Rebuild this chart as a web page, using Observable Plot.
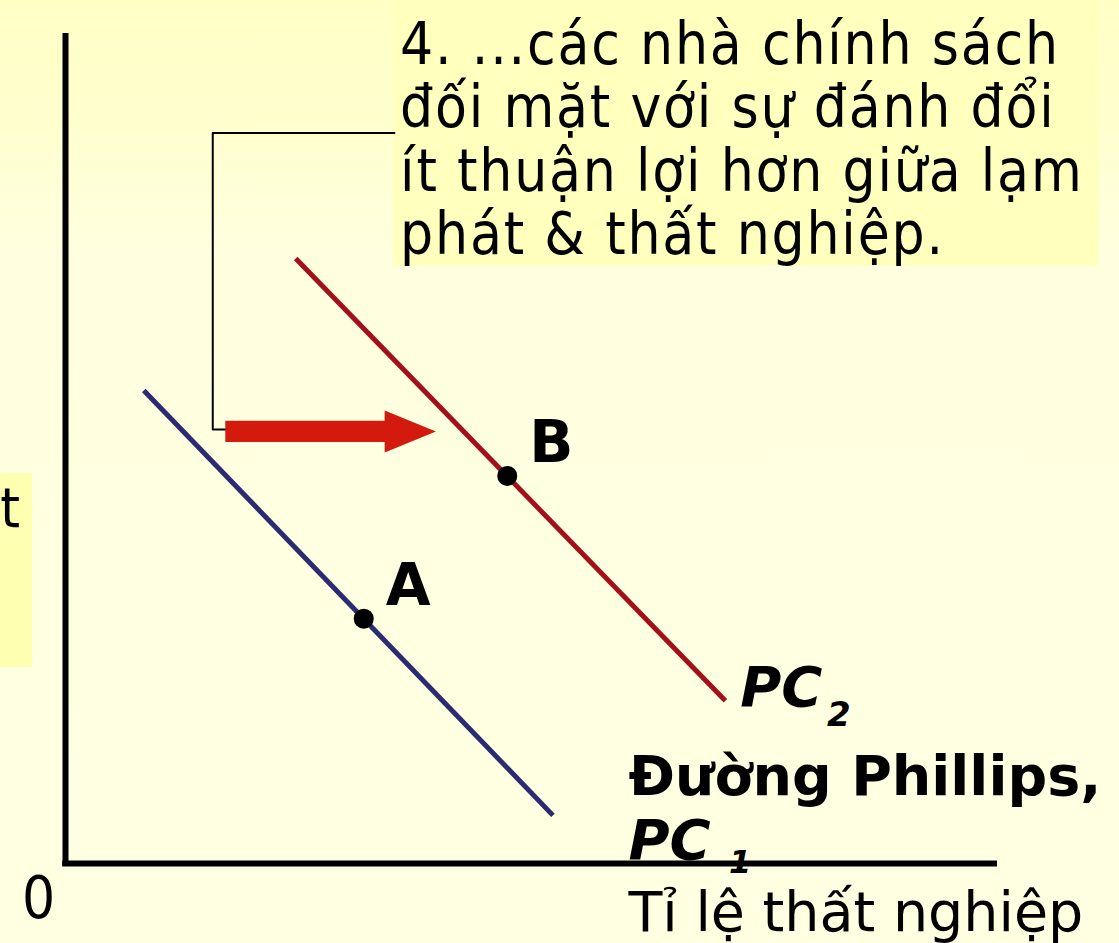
<!DOCTYPE html>
<html>
<head>
<meta charset="utf-8">
<script src="https://cdn.jsdelivr.net/npm/d3@7"></script>
<script src="https://cdn.jsdelivr.net/npm/@observablehq/plot@0.6"></script>
<style>
  html, body { margin: 0; padding: 0; }
  body {
    width: 1119px; height: 943px; overflow: hidden;
    background: linear-gradient(to bottom, #FFFFC6 0px, #FFFFCE 120px, #FFFFE0 260px, #FFFFE2 943px);
  }
  #chart svg { display: block; background: transparent !important; }
</style>
</head>
<body>
<div id="chart"></div>
<script>
// Phillips curves: unemployment rate (x) vs inflation rate (y), arbitrary units
const curveNames = ["PC1", "PC2"];
const curveUnemployment = [[0.84, 5.23], [2.47, 7.08]];
const curveInflation = [[5.70, 0.58], [7.29, 1.96]];

// Equilibrium points on each curve
const pointNames = ["A", "B"];
const pointUnemployment = [3.20, 4.74];
const pointInflation = [2.95, 4.67];

// Rightward shift of the curve
const shiftFrom = 1.72;
const shiftTo = 3.98;
const shiftInflation = 5.20;

const noteText = "4. ...các nhà chính sách\nđối mặt với sự đánh đổi\nít thuận lợi hơn giữa lạm\nphát & thất nghiệp.";
const curveTitle = "Đường Phillips,";
const xTitle = "Tỉ lệ thất nghiệp";
const originLabel = "0";

const curves = curveNames.map((name, i) => curveUnemployment[i].map((u, j) => ({name, u, p: curveInflation[i][j]}))).flat();
const points = pointNames.map((name, i) => ({name, u: pointUnemployment[i], p: pointInflation[i]}));

// Arrow drawn as a filled outline: shaft, then a triangular head
const shaftHalf = 0.127, headHalf = 0.253, headLen = 0.55;
const headBase = shiftTo - headLen;
const arrow = [
  {u: shiftFrom, lo: shiftInflation - shaftHalf, hi: shiftInflation + shaftHalf},
  {u: headBase, lo: shiftInflation - shaftHalf, hi: shiftInflation + shaftHalf},
  {u: headBase, lo: shiftInflation - headHalf, hi: shiftInflation + headHalf},
  {u: shiftTo, lo: shiftInflation, hi: shiftInflation}
];

// Bracket connecting the note to the shift arrow
const bracket = [
  {u: shiftFrom, p: 5.23}, {u: 1.58, p: 5.23}, {u: 1.58, p: 8.80}, {u: 3.53, p: 8.80}
];

const sans = "DejaVu Sans";
const cond = "DejaVu Sans Condensed";

const chart = Plot.plot({
  width: 1119,
  height: 943,
  margin: 0,
  style: {background: "transparent", overflow: "visible"},
  x: {domain: [0, 10], range: [65, 997], axis: null},
  y: {domain: [0, 10], range: [863, 33], axis: null},
  marks: [
    // note box and clipped side label box
    Plot.rect([0], {x1: 3.52, x2: 11.09, y1: 7.20, y2: 10.5, fill: "#FFFFBE"}),
    Plot.rect([0], {x1: -0.75, x2: -0.354, y1: 2.36, y2: 4.70, fill: "#FFFFB2"}),
    Plot.text(["t"], {x: -0.70, y: 4.05, text: d => d, textAnchor: "start", lineAnchor: "bottom", fontSize: 56, fontFamily: cond, fill: "black"}),

    // axes
    Plot.ruleY([0], {x1: -0.03, x2: 10, stroke: "black", strokeWidth: 6}),
    Plot.ruleX([0], {y1: -0.03, y2: 10, stroke: "black", strokeWidth: 6}),

    // bracket and shift arrow
    Plot.line(bracket, {x: "u", y: "p", stroke: "black", strokeWidth: 2, curve: "linear"}),
    Plot.areaY(arrow, {x: "u", y1: "lo", y2: "hi", fill: "#D41A0C"}),

    // Phillips curves
    Plot.line(curves, {x: "u", y: "p", z: "name", stroke: d => d.name === "PC1" ? "#2B2B72" : "#A3101C", strokeWidth: 5, strokeLinecap: "butt"}),

    // points A, B
    Plot.dot(points, {x: "u", y: "p", r: 10, fill: "black"}),
    Plot.text(points, {x: "u", y: "p", text: "name", dx: 22, dy: -14, textAnchor: "start", lineAnchor: "bottom", fontSize: 58, fontWeight: "bold", fontFamily: sans, fill: "black"}),

    // curve labels
    Plot.text(["PC"], {x: 7.24, y: 1.90, text: d => d, textAnchor: "start", lineAnchor: "bottom", fontSize: 56, fontWeight: "bold", fontStyle: "italic", fontFamily: sans, fill: "black"}),
    Plot.text(["2"], {x: 8.17, y: 1.66, text: d => d, textAnchor: "start", lineAnchor: "bottom", fontSize: 34, fontWeight: "bold", fontStyle: "italic", fontFamily: sans, fill: "black"}),
    Plot.text([curveTitle], {x: 6.04, y: 0.82, text: d => d, textAnchor: "start", lineAnchor: "bottom", fontSize: 55.5, fontWeight: "bold", fontFamily: sans, fill: "black"}),
    Plot.text(["PC"], {x: 6.04, y: 0.06, text: d => d, textAnchor: "start", lineAnchor: "bottom", fontSize: 56, fontWeight: "bold", fontStyle: "italic", fontFamily: sans, fill: "black"}),
    Plot.text(["1"], {x: 7.12, y: -0.12, text: d => d, textAnchor: "start", lineAnchor: "bottom", fontSize: 32, fontWeight: "bold", fontStyle: "italic", fontFamily: sans, fill: "black"}),

    // axis titles
    Plot.text([xTitle], {x: 6.04, y: -0.81, text: d => d, textAnchor: "start", lineAnchor: "bottom", fontSize: 55.5, fontFamily: sans, fill: "black"}),
    Plot.text([originLabel], {x: -0.29, y: -0.66, text: d => d, textAnchor: "middle", lineAnchor: "bottom", fontSize: 58, fontFamily: cond, fill: "black"}),

    // note
    Plot.text([noteText], {x: 3.59, y: 10.17, text: d => d, textAnchor: "start", lineAnchor: "top", lineHeight: 1.09, fontSize: 58, fontFamily: cond, fill: "black"})
  ]
});

// widen the condensed note lettering a touch
d3.select(chart).selectAll("text")
  .filter(function() { return this.textContent.startsWith("4."); })
  .attr("letter-spacing", 1.8);

document.getElementById("chart").appendChild(chart);
</script>
</body>
</html>
